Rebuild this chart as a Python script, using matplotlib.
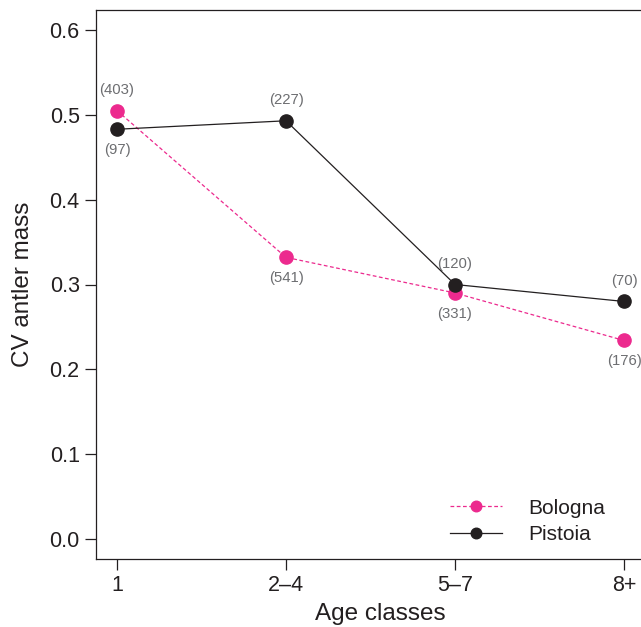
import numpy as np
import matplotlib.pyplot as plt

plt.rcParams['font.family'] = ['Liberation Sans', 'DejaVu Sans']

# --- data ---
age_classes = ['1', '2\u20134', '5\u20137', '8+']
bologna_cv = [0.505, 0.332, 0.290, 0.234]
pistoia_cv = [0.483, 0.493, 0.300, 0.280]
bologna_n = [403, 541, 331, 176]
pistoia_n = [97, 227, 120, 70]
# label above (+1) or below (-1) the point
bologna_side = [1, -1, -1, -1]
pistoia_side = [-1, 1, 1, 1]

pink = '#EC2A8E'
dark = '#231F20'
grey = '#6D6E71'

fig = plt.figure(figsize=(6.41, 6.27), dpi=100)
ax = fig.add_axes([96/641, 1 - 559/627, (665-96)/641, (559-10)/627])

x = np.arange(1, len(age_classes) + 1)
ax.plot(x, bologna_cv, ls=(0, (3, 2)), lw=0.9, color=pink, marker='o', ms=9.5,
        mec=pink, label='Bologna', zorder=3)
ax.plot(x, pistoia_cv, ls='-', lw=0.9, color=dark, marker='o', ms=9.5,
        mec=dark, label='Pistoia', zorder=4)

# sample sizes
for xi, yi, n, s in zip(x, bologna_cv, bologna_n, bologna_side):
    ax.annotate(f'({n})', (xi, yi), xytext=(0, 15*s), textcoords='offset points',
                ha='center', va='center', fontsize=10.7, color=grey)
for xi, yi, n, s in zip(x, pistoia_cv, pistoia_n, pistoia_side):
    ax.annotate(f'({n})', (xi, yi), xytext=(0, 15*s), textcoords='offset points',
                ha='center', va='center', fontsize=10.7, color=grey)

ax.set_xlim(1 - 21/169, 1 + (665-117)/169)
ax.set_ylim(-0.0236, 0.6236)
ax.set_xticks(x)
ax.set_xticklabels(age_classes)
ax.set_yticks(np.arange(0, 0.61, 0.1))
ax.set_yticklabels([f'{v:.1f}' for v in np.arange(0, 0.61, 0.1)])
ax.tick_params(direction='out', length=7.7, width=0.9, labelsize=15.5, colors=dark, pad=4)
for sp in ['left', 'bottom', 'top']:
    ax.spines[sp].set_linewidth(0.9)
    ax.spines[sp].set_color(dark)
ax.spines['right'].set_visible(False)

ax.set_xlabel('Age classes', fontsize=17.5, color=dark, labelpad=5)
ax.set_ylabel('CV antler mass', fontsize=17.5, color=dark, labelpad=11)

leg = fig.legend(loc='center left', bbox_to_anchor=(450/641, 1 - 521.5/627), frameon=False,
                 fontsize=15, handlelength=2.5, handletextpad=1.25, labelspacing=0.38,
                 borderpad=0, borderaxespad=0, markerscale=0.8)
for t in leg.get_texts():
    t.set_color(dark)

fig.savefig('out.png', dpi=100)
